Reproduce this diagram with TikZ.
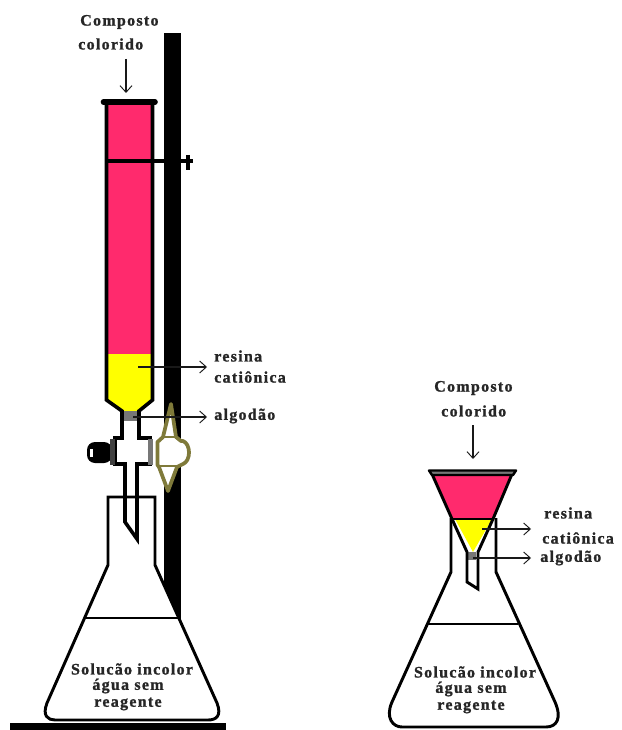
\documentclass[tikz,border=0pt]{standalone}
\usepackage{fontspec}
\setmainfont[LetterSpace=8,BoldFeatures={FakeBold=1.2}]{Liberation Serif}
\usetikzlibrary{arrows.meta}
\definecolor{pinkfill}{HTML}{FF2A6D}
\definecolor{yellowfill}{HTML}{FFFF00}
\definecolor{olive}{HTML}{7F7A3A}
\definecolor{cotton}{HTML}{777777}
\tikzset{
 glass/.style={line width=2.7pt,line join=miter,black},
 thin glass/.style={line width=2.2pt,black},
 lab/.style={font=\bfseries\fontsize{12}{14}\selectfont,inner sep=0pt,text=black!85},
 pointer/.style={line width=1.6pt,-{Straight Barb[length=5pt,width=9pt,line width=.7pt]},black!90},
}
\begin{document}
\begin{tikzpicture}[x=0.75pt,y=-0.75pt]
\useasboundingbox (0,0) rectangle (621,730);
% stand
\fill[black] (164,33) rectangle (181,620);
\fill[black] (10,723) rectangle (226,730);
% left flask
\draw[thin glass,fill=white] (108,497) -- (108,565) -- (47,703) .. controls (42,716) and (48,720) .. (55,720) -- (208,720) .. controls (216,720) and (222,716) .. (217,703) -- (155,565) -- (155,497) -- cycle;
\coordinate (lflL) at (86,618); \coordinate (lflR) at (180,618);
\draw[thin glass] (lflL) -- (lflR);
% column
\fill[pinkfill] (107,104) rectangle (152,354);
\fill[yellowfill] (107,354) -- (152,354) -- (152,400) -- (138,411) -- (122,411) -- (107,400) -- cycle;
\fill[cotton] (123,411) rectangle (138,421);
\draw[glass] (106.5,102) -- (106.5,400) -- (122,411) -- (122,438) -- (115,438) -- (115,464) -- (125,464) -- (125,522) -- (137,539) -- (137,464) -- (150,464) -- (150,438) -- (139,438) -- (139,411) -- (152.5,400) -- (152.5,102);
\draw[line width=4.2pt,line cap=round] (103.5,102) -- (155,102);
\draw[line width=2.7pt] (107,161) -- (193,161);
\draw[line width=2.4pt] (188,155) -- (188,170);
% valve parts
\fill[black,rounded corners=6pt] (87,442) rectangle (112,463);
\fill[white] (90,449) rectangle (92.5,457);
\fill[black!75] (110,439) rectangle (115,465);
\fill[cotton] (148,439) rectangle (153,465);
% stopcock
\draw[olive,line width=2.8pt,fill=white,line join=round] (171,404) -- (176,437) -- (181,441) -- (183,441) .. controls (191,444) and (191,461) .. (183,464) -- (177,467) -- (168,491) -- (159,467) -- (157.5,465) -- (157.5,442) -- (163,437) -- cycle;
\draw[olive,line width=2pt] (163,437) -- (176,437) (158,466) -- (177,466);
% right flask
\draw[thin glass,fill=white] (451,518) -- (451,572) -- (392,702) .. controls (385,718) and (393,727) .. (402,727) -- (546,727) .. controls (557,727) and (562,718) .. (555,702) -- (496,572) -- (496,518);
\draw[thin glass] (428,624) -- (518,624);
% funnel
\fill[pinkfill] (433,476) -- (510,476) -- (493,519) -- (452,519) -- cycle;
\fill[yellowfill] (455,519) -- (492,519) -- (473,552) -- cycle;
\fill[cotton] (468,552) rectangle (476,560);
\draw[thin glass] (432,474) -- (452,519) -- (467,552) -- (467,582) -- (478,589) -- (478,552) -- (493,519) -- (512,474);
\draw[thin glass] (452,519) -- (493,519);
\draw[line width=1.8pt,fill=cotton,line join=round] (429,470.5) -- (516,470.5) -- (513,475) -- (432,475) -- cycle;
% labels left
\node[lab,anchor=west] (compL) at (80,22) {Composto};
\node[lab,anchor=west] (corL) at (78,44) {colorido};
\coordinate (arTopL) at (126,59); \coordinate (arEndL) at (126,93);
\draw[pointer,line width=1.1pt] (arTopL) -- (arEndL);
\node[lab,anchor=west] (resL) at (214,356) {resina};
\node[lab,anchor=west] (catL) at (214,377) {catiônica};
\node[lab,anchor=west] (algL) at (214,416) {algodão};
\coordinate (resLs) at (138,367); \coordinate (resLe) at (207,367);
\coordinate (algLs) at (133,417); \coordinate (algLe) at (207,417);
\draw[pointer] (resLs) -- (resLe);
\draw[pointer] (algLs) -- (algLe);
\node[lab] (solL) at (132,669) {Solucão incolor};
\node[lab] (aguaL) at (128,686) {água sem};
\node[lab] (reaL) at (128,704) {reagente};
% labels right
\node[lab,anchor=west] (compR) at (434,388) {Composto};
\node[lab,anchor=west] (corR) at (441,411) {colorido};
\coordinate (arTopR) at (473,425); \coordinate (arEndR) at (473,459);
\draw[pointer,line width=1.1pt] (arTopR) -- (arEndR);
\node[lab,anchor=west] (resR) at (544,513) {resina};
\node[lab,anchor=west] (catR) at (542,538) {catiônica};
\node[lab,anchor=west] (algR) at (540,558) {algodão};
\coordinate (resRs) at (482,529); \coordinate (resRe) at (531,529);
\coordinate (algRs) at (473,558); \coordinate (algRe) at (531,558);
\draw[pointer] (resRs) -- (resRe);
\draw[pointer] (algRs) -- (algRe);
\node[lab] (solR) at (475,672) {Solucão incolor};
\node[lab] (aguaR) at (471,689) {água sem};
\node[lab] (reaR) at (471,707) {reagente};
\end{tikzpicture}
\end{document}
